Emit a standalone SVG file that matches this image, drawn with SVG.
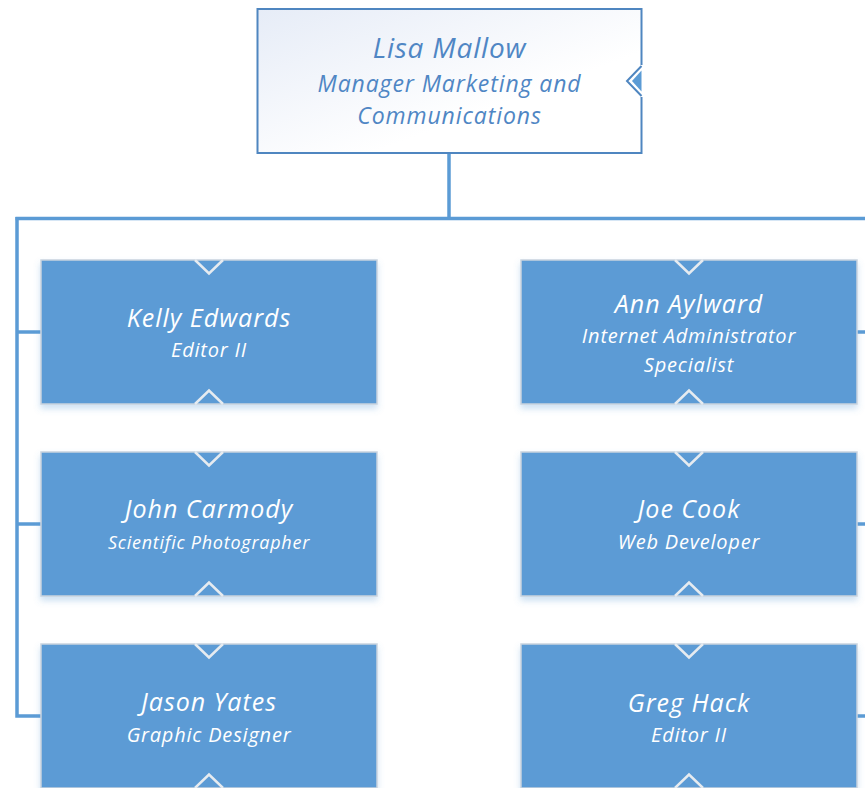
<svg xmlns="http://www.w3.org/2000/svg" width="865" height="788" viewBox="0 0 865 788">
<defs>
<linearGradient id="topg" x1="0" y1="0" x2="1" y2="1">
<stop offset="0" stop-color="#e6ecf7"/>
<stop offset="0.65" stop-color="#ffffff"/>
</linearGradient>
<filter id="sh" x="-10%" y="-10%" width="120%" height="130%">
<feGaussianBlur in="SourceAlpha" stdDeviation="3"/>
<feOffset dy="4" result="b"/>
<feFlood flood-color="#5b9bd5" flood-opacity="0.3"/>
<feComposite in2="b" operator="in"/>
<feMerge><feMergeNode/><feMergeNode in="SourceGraphic"/></feMerge>
</filter>
</defs>
<style>
.conn{stroke:#5b9bd5;stroke-width:3.5;fill:none}
.box{fill:#5b9bd5;stroke:#c9d3de;stroke-width:1.5}
.notch{fill:none;stroke:#e6ebf0;stroke-width:2.5}
.nm{font-family:"Open Sans","Liberation Sans",sans-serif;font-style:italic;font-size:25px;fill:#ffffff;text-anchor:middle;letter-spacing:1px}
.tt{font-family:"Open Sans","Liberation Sans",sans-serif;font-style:italic;font-size:20px;fill:#ffffff;text-anchor:middle;letter-spacing:0.8px}
.ts{font-size:18px;letter-spacing:0.75px}
.tnm{font-family:"Open Sans","Liberation Sans",sans-serif;font-style:italic;font-size:28px;fill:#4f86c4;text-anchor:middle;letter-spacing:0.8px}
.ttt{font-family:"Open Sans","Liberation Sans",sans-serif;font-style:italic;font-size:23px;fill:#4f86c4;text-anchor:middle;letter-spacing:0.9px}
</style>
<rect width="865" height="788" fill="#ffffff"/>
<g id="connectors">
<path class="conn" d="M449 153 V218.5"/>
<path class="conn" d="M15.5 218.5 H865"/>
<path class="conn" d="M17 217 V716 H41"/>
<path class="conn" d="M17 332 H41"/>
<path class="conn" d="M17 524 H41"/>
<path class="conn" d="M857 332 H865"/>
<path class="conn" d="M857 524 H865"/>
<path class="conn" d="M857 716 H865"/>
</g>
<g id="lisa">
<rect x="257.5" y="9" width="384" height="144" fill="url(#topg)" stroke="#4f86c0" stroke-width="2"/>
<rect x="638" y="65" width="6" height="32" fill="#ffffff"/>
<polyline points="641.5,66 627,81 641.5,96" fill="none" stroke="#4f86c0" stroke-width="2"/>
<polygon points="641.5,70.5 632,81 641.5,91.5" fill="#5b9bd5"/>
<text class="tnm" x="449.5" y="58">Lisa Mallow</text>
<text class="ttt" x="449.5" y="92">Manager Marketing and</text>
<text class="ttt" x="449.5" y="124">Communications</text>
</g>
<g id="kelly">
<rect class="box" x="41" y="260" width="336" height="144" filter="url(#sh)"/>
<polyline class="notch" points="195,260 209,273.5 223,260"/>
<polyline class="notch" points="195,404 209,390.5 223,404"/>
<text class="nm" x="209" y="327">Kelly Edwards</text>
<text class="tt" x="209" y="357">Editor II</text>
</g>
<g id="john">
<rect class="box" x="41" y="452" width="336" height="144" filter="url(#sh)"/>
<polyline class="notch" points="195,452 209,465.5 223,452"/>
<polyline class="notch" points="195,596 209,582.5 223,596"/>
<text class="nm" x="209" y="518">John Carmody</text>
<text class="tt ts" x="209" y="549">Scientific Photographer</text>
</g>
<g id="jason">
<rect class="box" x="41" y="644" width="336" height="144" filter="url(#sh)"/>
<polyline class="notch" points="195,644 209,657.5 223,644"/>
<polyline class="notch" points="195,788 209,774.5 223,788"/>
<text class="nm" x="209" y="711">Jason Yates</text>
<text class="tt" x="209" y="742">Graphic Designer</text>
</g>
<g id="ann">
<rect class="box" x="521" y="260" width="336" height="144" filter="url(#sh)"/>
<polyline class="notch" points="675,260 689,273.5 703,260"/>
<polyline class="notch" points="675,404 689,390.5 703,404"/>
<text class="nm" x="689" y="313">Ann Aylward</text>
<text class="tt" x="689" y="343">Internet Administrator</text>
<text class="tt" x="689" y="372">Specialist</text>
</g>
<g id="joe">
<rect class="box" x="521" y="452" width="336" height="144" filter="url(#sh)"/>
<polyline class="notch" points="675,452 689,465.5 703,452"/>
<polyline class="notch" points="675,596 689,582.5 703,596"/>
<text class="nm" x="689" y="518">Joe Cook</text>
<text class="tt" x="689" y="549">Web Developer</text>
</g>
<g id="greg">
<rect class="box" x="521" y="644" width="336" height="144" filter="url(#sh)"/>
<polyline class="notch" points="675,644 689,657.5 703,644"/>
<polyline class="notch" points="675,788 689,774.5 703,788"/>
<text class="nm" x="689" y="712">Greg Hack</text>
<text class="tt" x="689" y="742">Editor II</text>
</g>
</svg>
